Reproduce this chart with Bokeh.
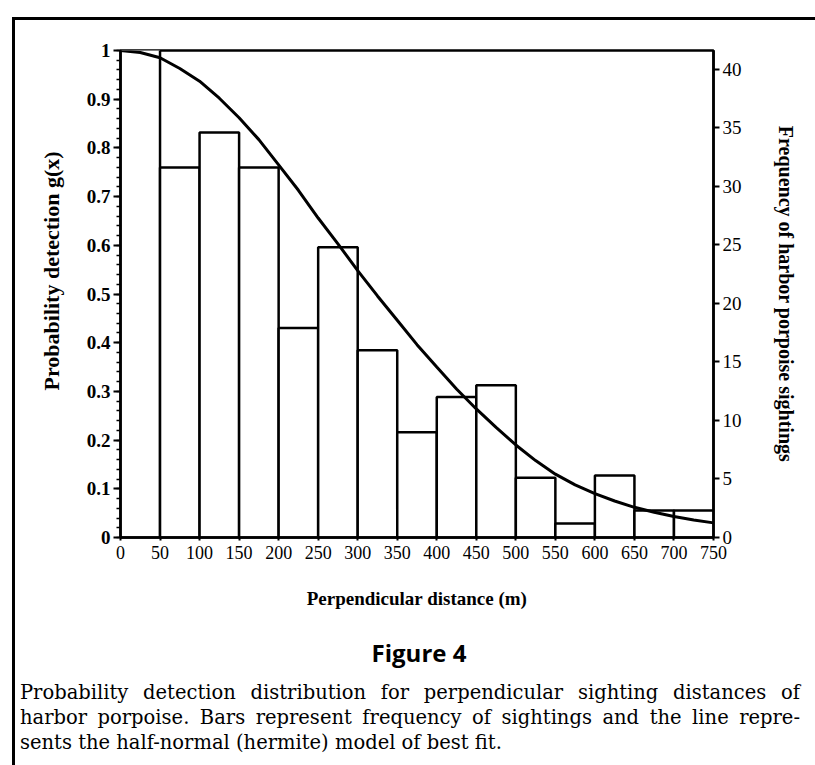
from bokeh.plotting import figure
from bokeh.models import Range1d, LinearAxis, Div, FixedTicker, Title
from bokeh.layouts import column
from bokeh.embed import file_html
from bokeh.resources import INLINE
import numpy as np

# ---- data ----
bin_left = [0, 50, 100, 150, 200, 250, 300, 350, 400, 450, 500, 550, 600, 650, 700]
bin_right = [50, 100, 150, 200, 250, 300, 350, 400, 450, 500, 550, 600, 650, 700, 750]
sightings = [42, 31.6, 34.6, 31.6, 17.9, 24.8, 16.0, 9.0, 12.0, 13.0, 5.1, 1.2, 5.3, 2.3, 2.3]

curve_x = [0, 25, 50, 75, 100, 125, 150, 175, 200, 225, 250, 275, 300, 325, 350, 375,
           400, 425, 450, 475, 500, 525, 550, 575, 600, 625, 650, 675, 700, 725, 750]
curve_g = [1.0, 0.996, 0.985, 0.963, 0.937, 0.902, 0.862, 0.817, 0.765, 0.713, 0.656,
           0.603, 0.548, 0.496, 0.446, 0.396, 0.350, 0.305, 0.264, 0.226, 0.190, 0.158,
           0.130, 0.108, 0.090, 0.075, 0.062, 0.052, 0.043, 0.036, 0.030]

x_ticks = [0, 50, 100, 150, 200, 250, 300, 350, 400, 450, 500, 550, 600, 650, 700, 750]
left_ticks = [0, 0.1, 0.2, 0.3, 0.4, 0.5, 0.6, 0.7, 0.8, 0.9, 1.0]
left_tick_labels = {0: "0", 0.1: "0.1", 0.2: "0.2", 0.3: "0.3", 0.4: "0.4", 0.5: "0.5",
                    0.6: "0.6", 0.7: "0.7", 0.8: "0.8", 0.9: "0.9", 1.0: "1"}
right_ticks = [0, 5, 10, 15, 20, 25, 30, 35, 40]
freq_axis_max = 41.6

SERIF = "Liberation Serif"
INK = "black"

p = figure(width=798, height=605, output_backend="svg", toolbar_location=None,
           x_range=Range1d(0, 750), y_range=Range1d(0, 1),
           min_border_left=105, min_border_right=100, min_border_top=30, min_border_bottom=88)
p.extra_y_ranges = {"freq": Range1d(0, freq_axis_max)}

p.xgrid.visible = False
p.ygrid.visible = False
p.outline_line_color = INK
p.outline_line_width = 2.5
p.background_fill_color = "white"
p.border_fill_color = "white"

# bars
p.quad(left=bin_left, right=bin_right, bottom=0, top=sightings, y_range_name="freq",
       fill_color="white", line_color=INK, line_width=2.5)
# model curve
p.line(curve_x, curve_g, line_color=INK, line_width=3)

# x axis
xa = p.xaxis[0]
xa.ticker = FixedTicker(ticks=x_ticks)
xa.axis_label = "Perpendicular distance (m)"
xa.axis_label_text_font = SERIF
xa.axis_label_text_font_style = "bold"
xa.axis_label_text_font_size = "19px"
xa.axis_label_text_color = INK
xa.axis_label_standoff = 26
xa.major_label_text_font = SERIF
xa.major_label_text_font_size = "18px"
xa.major_label_text_color = INK
xa.major_label_standoff = 5
xa.major_tick_in = 0
xa.major_tick_out = 3
xa.minor_tick_out = 0
xa.minor_tick_in = 0
xa.axis_line_width = 2.5
xa.major_tick_line_width = 2

# left axis
ya = p.yaxis[0]
minor = [round(v, 2) for v in np.arange(0, 1.0001, 0.02)]
ya.ticker = FixedTicker(ticks=left_ticks, minor_ticks=minor)
ya.major_label_overrides = left_tick_labels
ya.major_label_text_font = SERIF
ya.major_label_text_font_style = "bold"
ya.major_label_text_font_size = "19px"
ya.major_label_text_color = INK
ya.major_label_standoff = 3
ya.major_tick_in = 0
ya.major_tick_out = 7
ya.minor_tick_in = 0
ya.minor_tick_out = 4
ya.axis_line_width = 2.5
ya.major_tick_line_width = 2
ya.minor_tick_line_width = 1.5

# left axis title (placed off-centre like the original)
left_title = Title(text="Probability detection g(x)", align="left", offset=147,
                   text_font=SERIF, text_font_style="bold", text_font_size="22px",
                   text_color=INK, standoff=40)
p.add_layout(left_title, "left")

# right axis
ra = LinearAxis(y_range_name="freq", ticker=FixedTicker(ticks=right_ticks))
ra.axis_label = "Frequency of harbor porpoise sightings"
ra.axis_label_text_font = SERIF
ra.axis_label_text_font_style = "bold"
ra.axis_label_text_font_size = "20px"
ra.axis_label_text_color = INK
ra.axis_label_standoff = 30
ra.major_label_text_font = SERIF
ra.major_label_text_font_size = "19px"
ra.major_label_text_color = INK
ra.major_label_standoff = 3
ra.major_tick_in = 0
ra.major_tick_out = 6
ra.minor_tick_in = 0
ra.minor_tick_out = 0
ra.axis_line_width = 2.5
ra.major_tick_line_width = 2
p.add_layout(ra, "right")

fig_title = Div(text="Figure 4", width=798, height=45,
                styles={"text-align": "center", "font-family": "Open Sans",
                        "font-weight": "bold", "font-size": "24px", "line-height": "45px",
                        "width": "798px", "color": "black"})

cap_line1 = "Probability detection distribution for perpendicular sighting distances of"
cap_line2 = "harbor porpoise. Bars represent frequency of sightings and the line repre-"
cap_line3 = "sents the half-normal (hermite) model of best fit."
just = 'style="display:block;width:780px;text-align:justify;text-align-last:justify;white-space:nowrap;"'
cap_html = (
    '<div ' + just + '>' + cap_line1 + '</div>'
    '<div ' + just + '>' + cap_line2 + '</div>'
    '<div style="display:block;width:780px;text-align:left;">' + cap_line3 + '</div>'
)
caption = Div(text=cap_html, width=780, height=85,
              styles={"font-family": "DejaVu Serif", "font-size": "19.5px",
                      "line-height": "25px", "width": "780px", "color": "black"},
              margin=(0, 0, 0, 5))

layout = column(p, fig_title, caption,
                styles={"border-top": "3px solid black", "border-left": "3px solid black"},
                margin=(17, 0, 0, 12), spacing=0)

open("out.html", "w").write(file_html(layout, INLINE))
